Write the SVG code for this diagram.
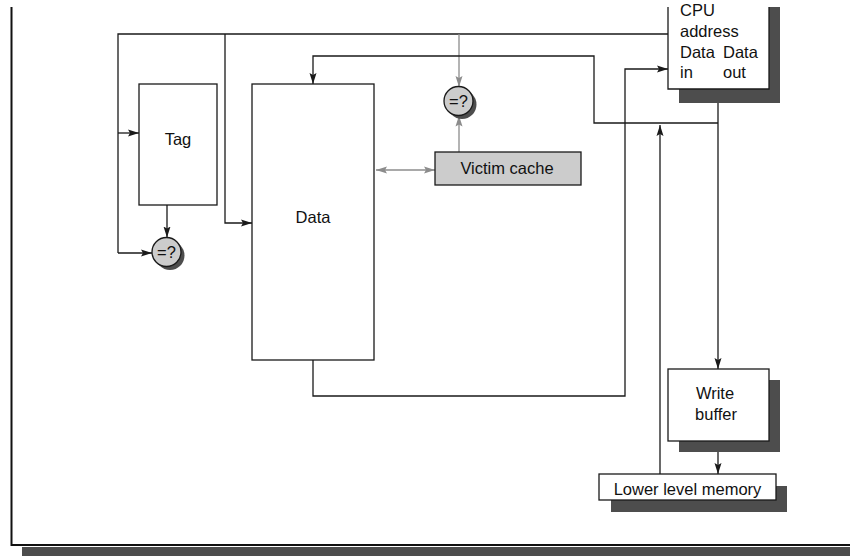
<svg xmlns="http://www.w3.org/2000/svg" width="850" height="556" viewBox="0 0 850 556">
<style>
  .box { fill: #fff; stroke: #1a1a1a; stroke-width: 1.3; }
  .shadow { fill: #4d4d4d; }
  .gbox { fill: #cccccc; stroke: #1a1a1a; stroke-width: 1.3; }
  .ln { fill: none; stroke: #1a1a1a; stroke-width: 1.3; }
  .gln { fill: none; stroke: #8c8c8c; stroke-width: 1.3; }
  .t { font-family: "Liberation Sans", Arial, sans-serif; font-size: 16.5px; fill: #111; }
  .c { text-anchor: middle; }
</style>
<defs>
  <marker id="ah" markerUnits="userSpaceOnUse" markerWidth="11" markerHeight="8" refX="11" refY="4" orient="auto">
    <path d="M0,0.5 L11,4 L0,7.5 L2,4 z" fill="#1a1a1a"/>
  </marker>
  <marker id="gah" markerUnits="userSpaceOnUse" markerWidth="11" markerHeight="8" refX="11" refY="4" orient="auto-start-reverse">
    <path d="M0,0.5 L11,4 L0,7.5 L2,4 z" fill="#8c8c8c"/>
  </marker>
</defs>
<rect width="850" height="556" fill="#fff"/>

<g id="frame">
  <rect class="shadow" x="22" y="547" width="828" height="9"/>
  <path d="M11.5,7 V545 H850" fill="none" stroke="#111" stroke-width="2"/>
</g>

<g id="connectors">
  <path class="ln" d="M668,34 H118 V253" />
  <path class="ln" d="M118,133 H139" marker-end="url(#ah)"/>
  <path class="ln" d="M118,253 H152" marker-end="url(#ah)"/>
  <path class="ln" d="M225,34 V223 H252" marker-end="url(#ah)"/>
  <path class="gln" d="M459,34 V87" marker-end="url(#gah)"/>
  <path class="ln" d="M167,205 V237.5" marker-end="url(#ah)"/>
  <path class="gln" d="M459,152 V115.5" marker-end="url(#gah)"/>
  <path class="gln" d="M376,170 H435" marker-start="url(#gah)" marker-end="url(#gah)"/>
  <path class="ln" d="M718,123 H594 V56 H313 V84" marker-end="url(#ah)"/>
  <path class="ln" d="M313,360 V396 H625 V69 H668" marker-end="url(#ah)"/>
  <path class="ln" d="M718,89 V369" marker-end="url(#ah)"/>
  <path class="ln" d="M718,441 V474" marker-end="url(#ah)"/>
  <path class="ln" d="M660,474 V125" marker-end="url(#ah)"/>
</g>

<g id="cpu">
  <rect class="shadow" x="679" y="7" width="101" height="96"/>
  <rect x="668" y="7" width="101" height="82" fill="#fff"/>
  <path class="ln" d="M668,7 V89 H769 V7"/>
  <text class="t" x="680" y="16">CPU</text>
  <text class="t" x="680" y="36.5">address</text>
  <text class="t" x="680" y="57.5">Data</text>
  <text class="t" x="723" y="57.5">Data</text>
  <text class="t" x="680" y="78">in</text>
  <text class="t" x="723" y="78">out</text>
</g>

<g id="tag">
  <rect class="box" x="139" y="84" width="78" height="121"/>
  <text class="t c" x="178" y="145">Tag</text>
</g>

<g id="tag-compare">
  <circle class="shadow" cx="170" cy="255.5" r="14.5"/>
  <circle class="gbox" cx="166.5" cy="252" r="14.5"/>
  <text class="t c" x="166.5" y="258">=?</text>
</g>

<g id="data">
  <rect class="box" x="252" y="84" width="122" height="276"/>
  <text class="t c" x="313" y="223">Data</text>
</g>

<g id="victim-compare">
  <circle class="shadow" cx="462" cy="104.5" r="14.5"/>
  <circle class="gbox" cx="458.5" cy="101" r="14.5"/>
  <text class="t c" x="458.5" y="107">=?</text>
</g>

<g id="victim-cache">
  <rect class="gbox" x="435" y="152" width="146" height="33"/>
  <text class="t c" x="507" y="173.5">Victim cache</text>
</g>

<g id="write-buffer">
  <rect class="shadow" x="679" y="380" width="101" height="72"/>
  <rect class="box" x="668" y="369" width="101" height="72"/>
  <text class="t c" x="715" y="399">Write</text>
  <text class="t c" x="716" y="420">buffer</text>
</g>

<g id="lower-memory">
  <rect class="shadow" x="611" y="486" width="176" height="26"/>
  <rect class="box" x="599" y="474" width="177" height="26"/>
  <text class="t c" x="687.5" y="495">Lower level memory</text>
</g>
</svg>
